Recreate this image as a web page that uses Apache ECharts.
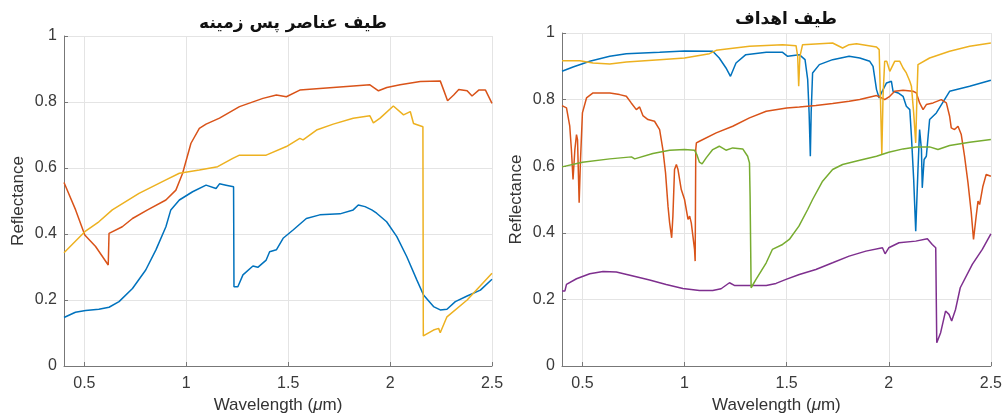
<!DOCTYPE html>
<html><head><meta charset="utf-8">
<script src="https://cdn.jsdelivr.net/npm/echarts@6/dist/echarts.min.js"></script>
<style>html,body{margin:0;padding:0;background:#fff}#c{width:1005px;height:419px}</style>
</head><body><div id="c"></div>
<script>
// ---- Left panel (background elements) ----
const bgBlue = [[0.4,0.147],[0.456,0.163],[0.506,0.168],[0.571,0.172],[0.621,0.178],[0.67,0.195],[0.736,0.235],[0.801,0.291],[0.851,0.352],[0.9,0.422],[0.924,0.473],[0.966,0.503],[1.031,0.528],[1.097,0.548],[1.146,0.538],[1.163,0.552],[1.195,0.548],[1.232,0.543],[1.234,0.24],[1.253,0.24],[1.278,0.276],[1.327,0.303],[1.351,0.299],[1.392,0.321],[1.409,0.346],[1.442,0.352],[1.475,0.387],[1.524,0.412],[1.589,0.447],[1.655,0.458],[1.754,0.461],[1.819,0.473],[1.844,0.488],[1.877,0.483],[1.91,0.473],[1.934,0.463],[1.983,0.437],[2.033,0.392],[2.082,0.331],[2.131,0.261],[2.164,0.215],[2.213,0.18],[2.246,0.17],[2.279,0.172],[2.32,0.195],[2.378,0.212],[2.443,0.23],[2.5,0.263]];
const bgOrange = [[0.4,0.556],[0.457,0.473],[0.502,0.397],[0.555,0.362],[0.617,0.306],[0.621,0.402],[0.686,0.422],[0.736,0.447],[0.81,0.473],[0.9,0.503],[0.949,0.533],[0.982,0.584],[1.023,0.675],[1.064,0.72],[1.097,0.733],[1.163,0.751],[1.261,0.786],[1.376,0.811],[1.442,0.821],[1.491,0.816],[1.557,0.836],[1.655,0.841],[1.803,0.848],[1.901,0.852],[1.943,0.834],[1.984,0.844],[2.049,0.852],[2.148,0.862],[2.246,0.864],[2.263,0.836],[2.282,0.804],[2.312,0.821],[2.337,0.838],[2.378,0.834],[2.402,0.818],[2.435,0.836],[2.468,0.836],[2.5,0.796]];
const bgYellow = [[0.4,0.343],[0.502,0.407],[0.571,0.437],[0.637,0.473],[0.768,0.523],[0.9,0.564],[0.966,0.584],[1.064,0.594],[1.154,0.604],[1.228,0.629],[1.261,0.639],[1.392,0.639],[1.491,0.665],[1.557,0.69],[1.573,0.685],[1.639,0.715],[1.721,0.733],[1.819,0.751],[1.901,0.758],[1.918,0.737],[1.951,0.751],[2.016,0.788],[2.066,0.761],[2.099,0.771],[2.115,0.735],[2.161,0.725],[2.163,0.091],[2.213,0.109],[2.238,0.114],[2.246,0.101],[2.279,0.149],[2.378,0.2],[2.5,0.281]];
// ---- Right panel (targets) ----
const tgBlue = [[0.4,0.885],[0.454,0.898],[0.536,0.915],[0.634,0.93],[0.715,0.938],[0.878,0.942],[1.0,0.946],[1.138,0.945],[1.17,0.925],[1.203,0.895],[1.225,0.87],[1.252,0.91],[1.3,0.935],[1.4,0.942],[1.48,0.942],[1.505,0.93],[1.562,0.935],[1.59,0.92],[1.603,0.86],[1.61,0.76],[1.616,0.63],[1.62,0.76],[1.627,0.88],[1.66,0.905],[1.725,0.92],[1.806,0.93],[1.858,0.925],[1.907,0.915],[1.923,0.9],[1.94,0.83],[1.953,0.805],[1.964,0.82],[1.989,0.85],[2.013,0.855],[2.021,0.825],[2.046,0.82],[2.07,0.81],[2.086,0.78],[2.103,0.77],[2.111,0.69],[2.122,0.56],[2.132,0.405],[2.143,0.59],[2.151,0.71],[2.16,0.65],[2.164,0.535],[2.173,0.62],[2.184,0.63],[2.2,0.74],[2.233,0.76],[2.298,0.825],[2.396,0.84],[2.5,0.858]];
const tgOrange = [[0.4,0.782],[0.422,0.775],[0.438,0.72],[0.446,0.65],[0.454,0.56],[0.463,0.65],[0.471,0.695],[0.476,0.68],[0.484,0.49],[0.49,0.61],[0.5,0.76],[0.52,0.805],[0.552,0.82],[0.634,0.82],[0.682,0.815],[0.715,0.81],[0.739,0.79],[0.764,0.77],[0.78,0.778],[0.796,0.752],[0.821,0.74],[0.853,0.735],[0.878,0.71],[0.894,0.65],[0.907,0.58],[0.919,0.48],[0.927,0.43],[0.937,0.385],[0.943,0.45],[0.951,0.59],[0.96,0.605],[0.968,0.59],[0.984,0.53],[1.0,0.5],[1.017,0.44],[1.025,0.45],[1.033,0.43],[1.041,0.39],[1.049,0.35],[1.052,0.315],[1.055,0.65],[1.058,0.67],[1.073,0.675],[1.155,0.7],[1.236,0.72],[1.318,0.745],[1.4,0.765],[1.5,0.775],[1.562,0.778],[1.643,0.782],[1.725,0.788],[1.806,0.795],[1.858,0.8],[1.94,0.812],[1.956,0.808],[1.98,0.8],[2.005,0.81],[2.029,0.825],[2.07,0.828],[2.119,0.825],[2.135,0.82],[2.151,0.79],[2.168,0.77],[2.184,0.785],[2.217,0.79],[2.257,0.8],[2.282,0.79],[2.298,0.75],[2.306,0.715],[2.322,0.71],[2.339,0.72],[2.355,0.695],[2.371,0.63],[2.388,0.55],[2.404,0.46],[2.415,0.38],[2.428,0.45],[2.437,0.495],[2.445,0.485],[2.461,0.54],[2.477,0.575],[2.5,0.57]];
const tgYellow = [[0.4,0.917],[0.487,0.917],[0.552,0.91],[0.634,0.907],[0.715,0.913],[0.878,0.92],[1.0,0.925],[1.122,0.938],[1.155,0.948],[1.318,0.96],[1.48,0.965],[1.546,0.962],[1.554,0.93],[1.559,0.84],[1.565,0.93],[1.578,0.965],[1.725,0.97],[1.774,0.955],[1.806,0.965],[1.842,0.968],[1.94,0.958],[1.953,0.95],[1.959,0.81],[1.966,0.635],[1.972,0.81],[1.98,0.915],[1.99,0.915],[2.005,0.885],[2.029,0.915],[2.054,0.915],[2.07,0.895],[2.086,0.88],[2.103,0.855],[2.111,0.84],[2.122,0.76],[2.132,0.67],[2.138,0.81],[2.143,0.905],[2.2,0.925],[2.298,0.945],[2.396,0.96],[2.5,0.97]];
const tgPurple = [[0.4,0.225],[0.414,0.225],[0.422,0.245],[0.471,0.262],[0.536,0.277],[0.601,0.284],[0.666,0.282],[0.748,0.27],[0.829,0.258],[0.91,0.245],[0.992,0.233],[1.073,0.227],[1.138,0.227],[1.179,0.232],[1.22,0.25],[1.244,0.242],[1.301,0.242],[1.4,0.242],[1.448,0.248],[1.497,0.26],[1.562,0.275],[1.643,0.29],[1.725,0.31],[1.806,0.33],[1.888,0.345],[1.969,0.355],[1.982,0.337],[2.0,0.355],[2.05,0.37],[2.132,0.375],[2.189,0.382],[2.213,0.365],[2.23,0.355],[2.235,0.07],[2.254,0.1],[2.278,0.165],[2.295,0.155],[2.308,0.135],[2.327,0.17],[2.35,0.235],[2.409,0.305],[2.458,0.35],[2.5,0.397]];
const tgGreen = [[0.4,0.598],[0.5,0.612],[0.634,0.622],[0.74,0.628],[0.756,0.622],[0.845,0.638],[0.927,0.648],[1.0,0.65],[1.049,0.648],[1.06,0.635],[1.073,0.612],[1.086,0.607],[1.106,0.625],[1.138,0.65],[1.17,0.66],[1.203,0.648],[1.236,0.655],[1.285,0.652],[1.309,0.63],[1.318,0.61],[1.321,0.51],[1.326,0.235],[1.35,0.26],[1.4,0.31],[1.43,0.35],[1.48,0.365],[1.513,0.38],[1.56,0.42],[1.603,0.47],[1.627,0.5],[1.676,0.555],[1.725,0.59],[1.774,0.605],[1.858,0.618],[1.94,0.63],[2.0,0.642],[2.07,0.652],[2.135,0.658],[2.2,0.658],[2.241,0.65],[2.298,0.662],[2.396,0.672],[2.5,0.68]];

const xTicks = [0.5, 1, 1.5, 2, 2.5];
const titles = ['طیف عناصر پس زمینه', 'طیف اهداف'];
const xName = 'Wavelength ({mu|\u03BC}m)';
const yName = 'Reflectance';

const C = {blue:'#0072BD', orange:'#D95319', yellow:'#EDB120', purple:'#7E2F8E', green:'#77AC30'};
const font = 'Liberation Sans, Arial, sans-serif';

function xAxis(gi){
  return {type:'value', gridIndex:gi, min:0.4, max:2.5,
    name:xName, nameLocation:'middle', nameGap:31,
    nameTextStyle:{fontFamily:font, fontSize:17, color:'#333',
      rich:{mu:{fontFamily:font, fontSize:17, color:'#333', fontStyle:'italic'}}},
    axisLine:{show:true, lineStyle:{color:'#777', width:1}},
    axisTick:{show:true, inside:true, length:4, customValues:xTicks, lineStyle:{color:'#777'}},
    axisLabel:{customValues:xTicks, margin:10, fontFamily:font, fontSize:16, color:'#3a3a3a',
      formatter:v=>String(+v.toFixed(2))},
    splitLine:{show:true, lineStyle:{color:'#e4e4e4', width:1}}};
}
function yAxis(gi){
  return {type:'value', gridIndex:gi, min:0, max:1, interval:0.2,
    name:yName, nameLocation:'middle', nameGap:37,
    nameTextStyle:{fontFamily:font, fontSize:17, color:'#333'},
    axisLine:{show:true, lineStyle:{color:'#777', width:1}},
    axisTick:{show:true, inside:true, length:4, lineStyle:{color:'#777'}},
    axisLabel:{margin:7, fontFamily:font, fontSize:16, color:'#3a3a3a',
      formatter:v=>String(+v.toFixed(2))},
    splitLine:{show:true, lineStyle:{color:'#e4e4e4', width:1}}};
}
function line(data, color, gi){
  return {type:'line', data:data, xAxisIndex:gi, yAxisIndex:gi, showSymbol:false, symbol:'none',
    lineStyle:{color:color, width:1.5}, itemStyle:{color:color}, animation:false, z:3};
}
const chart = echarts.init(document.getElementById('c'), null, {renderer:'canvas'});
chart.setOption({
  animation:false,
  backgroundColor:'#fff',
  title:[
    {text:titles[0], left:288, top:10, textAlign:'center', textStyle:{fontFamily:'DejaVu Sans', fontWeight:'bold', fontSize:17, color:'#111'}},
    {text:titles[1], left:781, top:6, textAlign:'center', textStyle:{fontFamily:'DejaVu Sans', fontWeight:'bold', fontSize:17, color:'#111'}}
  ],
  grid:[
    {left:64, right:513, top:36, bottom:53, containLabel:false},
    {left:562, right:12, top:33, bottom:52, containLabel:false}
  ],
  xAxis:[xAxis(0), xAxis(1)],
  yAxis:[yAxis(0), yAxis(1)],
  series:[
    line(bgBlue, C.blue, 0), line(bgOrange, C.orange, 0), line(bgYellow, C.yellow, 0),
    line(tgBlue, C.blue, 1), line(tgOrange, C.orange, 1), line(tgYellow, C.yellow, 1),
    line(tgPurple, C.purple, 1), line(tgGreen, C.green, 1)
  ]
});
</script></body></html>
